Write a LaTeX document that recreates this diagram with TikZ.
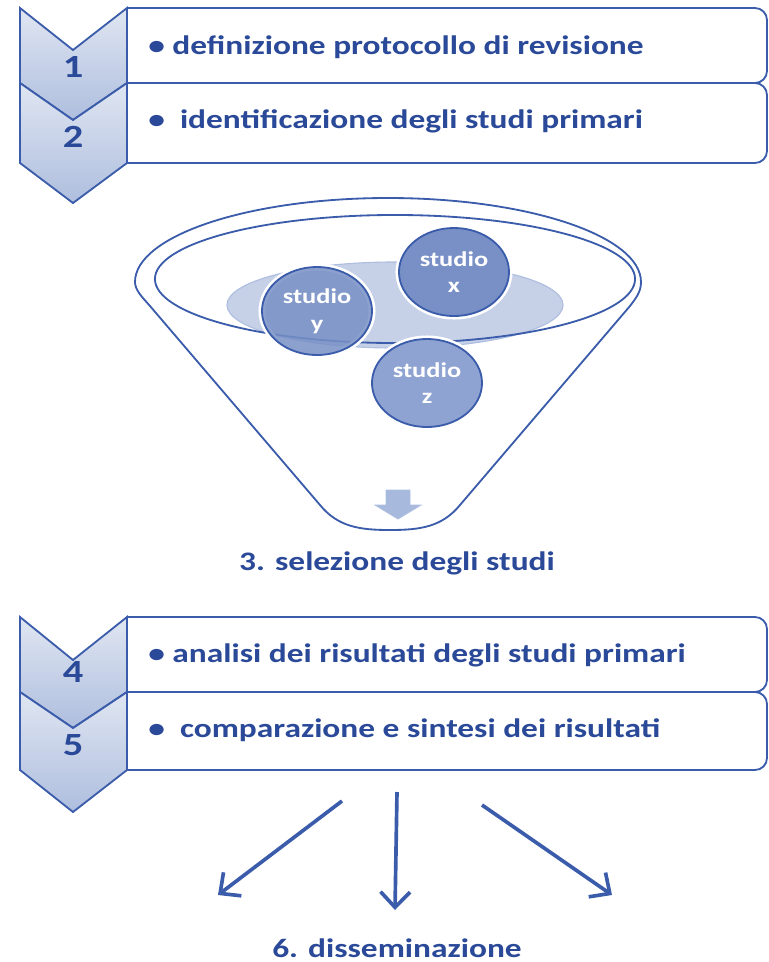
\documentclass[tikz,border=0pt]{standalone}
\usepackage{fontspec}
\setmainfont{Carlito}[FakeStretch=1.25]
\usepackage{tikz}
\usetikzlibrary{arrows.meta,positioning,shapes.geometric}
\definecolor{navy}{HTML}{2A4998}
\definecolor{rim}{HTML}{3B5CAA}
\definecolor{pale}{HTML}{C6D0E7}
\definecolor{paleline}{HTML}{AEBEE0}
\definecolor{ball}{HTML}{7890C6}
\definecolor{ballz}{HTML}{8EA3D1}
\definecolor{chevtop}{HTML}{E0E6F2}
\definecolor{chevbot}{HTML}{AEBEDE}
\definecolor{drop}{HTML}{A8B9DE}
\tikzset{>/.tip={Straight Barb[length=11pt,width=21pt,line width=2.6pt]}}
\tikzset{chevron/.style={draw=rim,line width=1.3pt,top color=chevtop,bottom color=chevbot}}
\tikzset{stepbox/.style={draw=rim,line width=1.3pt,fill=white,rounded corners=0.3cm}}
\tikzset{steptext/.style={anchor=base west,inner sep=0pt,text=navy,font=\fontsize{19}{22}\selectfont\bfseries}}
\tikzset{stepnum/.style={anchor=base,inner sep=0pt,text=navy,font=\fontsize{23}{26}\selectfont\bfseries}}
\tikzset{title/.style={anchor=base,inner sep=0pt,text=navy,font=\fontsize{19}{22}\selectfont\bfseries}}
\tikzset{studio/.style={ellipse,minimum width=2.75cm,minimum height=2.2cm,fill=ball,draw=rim,line width=1.3pt,
  preaction={draw=white,line width=5pt},align=center,text=white,font=\fontsize{15}{19}\selectfont\bfseries}}

\begin{document}
\begin{tikzpicture}[x=0.025cm,y=-0.025cm]
        \useasboundingbox (0,0) rectangle (769,962);
        % steps 1 and 2
        \draw[stepbox] (127,8) -- (767,8) -- (767,83) -- (127,83);
        \draw[stepbox] (127,83) -- (767,83) -- (767,163) -- (127,163);
        \draw[chevron] (20,8) -- (73,50) -- (127,8) -- (127,83) -- (73,120) -- (20,83) -- cycle;
        \draw[chevron] (20,83) -- (73,120) -- (127,83) -- (127,163) -- (73,203) -- (20,163) -- cycle;
        \node[stepnum] (n1) at (73,77) {1};
        \node[stepnum] (n2) at (73,147) {2};
        \node[steptext] (t1) at (148,54) {• definizione protocollo di revisione};
        \node[steptext] (t2) at (148,128) {•\ \ identificazione degli studi primari};
        % funnel
        \draw[rim,line width=1.3pt] (135,282) .. controls (135,236) and (248,198) .. (388,198)
          .. controls (528,198) and (641,236) .. (641,282)
          .. controls (641,292) and (636,298) .. (630,306) -- (460,505)
          .. controls (442,527) and (420,530) .. (390,530)
          .. controls (360,530) and (338,527) .. (320,505) -- (150,306)
          .. controls (142,297) and (135,290) .. (135,282) -- cycle;
        \fill[pale,draw=paleline,line width=0.8pt] (395,305) circle[x radius=4.2cm,y radius=1.075cm];
        \draw[rim,line width=1.3pt] (395,279) circle[x radius=6cm,y radius=1.6cm];
        \node[studio] (sx) at (454,272) {studio\\x};
        \node[studio,fill opacity=0.85,text opacity=1] (sy) at (317,311) {studio\\y};
        \node[studio,fill=ballz] (sz) at (427,383) {studio\\z};
        \fill[drop,draw=paleline,line width=0.6pt] (386,490) -- (410,490) -- (410,505) -- (421,505)
          -- (398,519) -- (375,505) -- (386,505) -- cycle;
        \node[title] (sel) at (397,570) {3. selezione degli studi};
        % steps 4 and 5
        \draw[stepbox] (127,617) -- (767,617) -- (767,692) -- (127,692);
        \draw[stepbox] (127,692) -- (767,692) -- (767,770) -- (127,770);
        \draw[chevron] (20,617) -- (73,660) -- (127,617) -- (127,692) -- (73,728) -- (20,692) -- cycle;
        \draw[chevron] (20,692) -- (73,728) -- (127,692) -- (127,770) -- (73,812) -- (20,770) -- cycle;
        \node[stepnum] (n4) at (73,682) {4};
        \node[stepnum] (n5) at (73,755) {5};
        \node[steptext] (t4) at (148,662) {• analisi dei risultati degli studi primari};
        \node[steptext] (t5) at (148,737) {•\ \ comparazione e sintesi dei risultati};
        % dissemination
        \coordinate (a1) at (342,801);
        \coordinate (a2) at (397,792);
        \coordinate (a3) at (482,805);
        \coordinate (b1) at (218,895);
        \coordinate (b2) at (395,910);
        \coordinate (b3) at (612,895);
        \draw[rim,line width=2.6pt]
        (a1) edge[->] (b1)
        (a2) edge[->] (b2)
        (a3) edge[->] (b3);
        \node[title] (dis) at (397,957) {6. disseminazione};
      \end{tikzpicture}
\end{document}
